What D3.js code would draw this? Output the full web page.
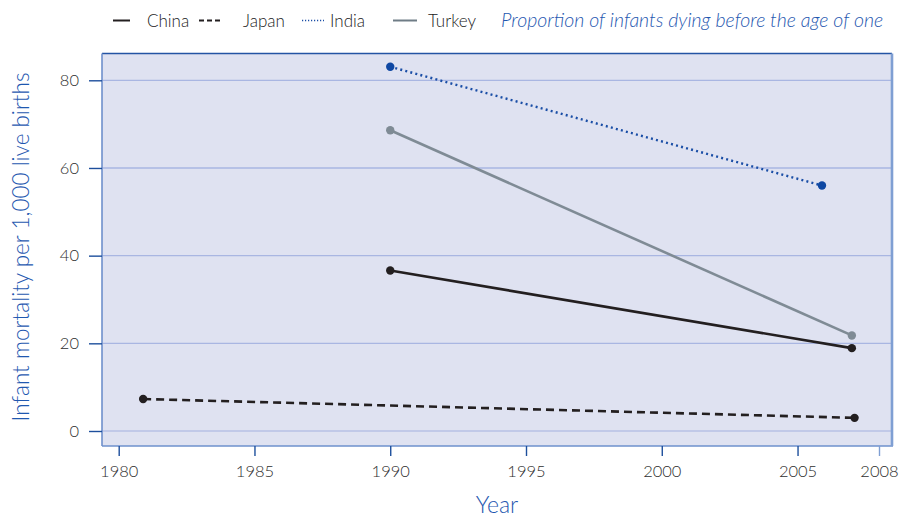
<!DOCTYPE html>
<html>
<head>
<meta charset="utf-8">
<script src="https://cdn.jsdelivr.net/npm/d3@7"></script>
<style>
  html, body { margin: 0; padding: 0; background: #ffffff; }
  svg { display: block; font-family: Lato, "Open Sans", sans-serif; }
</style>
</head>
<body>
<svg id="chart" width="902" height="519"></svg>
<script>
// Infant mortality per 1,000 live births, selected countries
const seriesNames = ["China", "Japan", "India", "Turkey"];
const chinaYears = [1990, 2007];
const chinaValues = [36.6, 18.9];
const japanYears = [1980.9, 2007.1];
const japanValues = [7.3, 3.0];
const indiaYears = [1990, 2005.9];
const indiaValues = [83.1, 56.0];
const turkeyYears = [1990, 2007];
const turkeyValues = [68.6, 21.8];

const xTicks = [1980, 1985, 1990, 1995, 2000, 2005, 2008];
const yTicks = [0, 20, 40, 60, 80];

const legendTitle = "Proportion of infants dying before the age of one";
const yTitle = "Infant mortality per 1,000 live births";
const xTitle = "Year";

const svg = d3.select("#chart");

// plot frame
const frame = { left: 102, right: 892, top: 53.5, bottom: 446 };

const x = d3.scaleLinear().domain([1980, 2008]).range([118.7, 879]);
const y = d3.scaleLinear().domain([0, 80]).range([431, 80.3]);

// background panel
svg.append("rect")
  .attr("x", frame.left).attr("y", frame.top)
  .attr("width", frame.right - frame.left)
  .attr("height", frame.bottom - frame.top)
  .attr("fill", "#dfe2f1");

// horizontal gridlines
svg.append("g").selectAll("line").data(yTicks).join("line")
  .attr("x1", frame.left).attr("x2", frame.right)
  .attr("y1", d => y(d)).attr("y2", d => y(d))
  .attr("stroke", d => d === 0 ? "#b7c1e4" : "#a9b6e2")
  .attr("stroke-width", 1.3);

// frame edges
svg.append("line").attr("x1", frame.left).attr("x2", frame.right)
  .attr("y1", frame.top).attr("y2", frame.top)
  .attr("stroke", "#2454a4").attr("stroke-width", 1.6);
svg.append("line").attr("x1", frame.left).attr("x2", frame.left)
  .attr("y1", frame.top).attr("y2", frame.bottom)
  .attr("stroke", "#6e90cc").attr("stroke-width", 1.6);
svg.append("line").attr("x1", frame.left).attr("x2", frame.right + 1)
  .attr("y1", frame.bottom).attr("y2", frame.bottom)
  .attr("stroke", "#6e90cc").attr("stroke-width", 1.6);
svg.append("line").attr("x1", frame.right).attr("x2", frame.right)
  .attr("y1", frame.top).attr("y2", frame.bottom)
  .attr("stroke", "#7f9fd3").attr("stroke-width", 2.6);

// y axis ticks and labels
const yAxis = d3.axisLeft(y).tickValues(yTicks).tickSize(13).tickPadding(10).tickFormat(d3.format("d"));
const gy = svg.append("g").attr("transform", `translate(${frame.left},0)`).call(yAxis);
gy.select(".domain").remove();
gy.selectAll(".tick line").attr("stroke", "#1d4f9c").attr("stroke-width", 1.4);
gy.selectAll(".tick text")
  .attr("fill", "#2e2e2e").attr("font-size", 16.5).attr("font-weight", 300)
  .attr("font-family", "Lato, sans-serif");

// x axis ticks and labels
const xAxis = d3.axisBottom(x).tickValues(xTicks).tickSize(10).tickPadding(9).tickFormat(d3.format("d"));
const gx = svg.append("g").attr("transform", `translate(0,${frame.bottom})`).call(xAxis);
gx.select(".domain").remove();
gx.selectAll(".tick line")
  .attr("stroke", d => d === 2008 ? "#7f9fd3" : "#1d4f9c").attr("stroke-width", 1.4);
gx.selectAll(".tick text")
  .attr("fill", "#2e2e2e").attr("font-size", 16.5).attr("font-weight", 300)
  .attr("font-family", "Lato, sans-serif");

// axis titles
svg.append("text")
  .attr("transform", "translate(29,247) rotate(-90)")
  .attr("text-anchor", "middle")
  .attr("fill", "#1f58b0").attr("font-size", 22.5).attr("font-weight", 300)
  .text(yTitle);
svg.append("text")
  .attr("x", 497).attr("y", 513)
  .attr("text-anchor", "middle")
  .attr("fill", "#1f58b0").attr("font-size", 23).attr("font-weight", 300)
  .text(xTitle);

// series definitions
const series = [
  { name: seriesNames[0], years: chinaYears, values: chinaValues, color: "#231f20", dash: null, marker: "#231f20" },
  { name: seriesNames[1], years: japanYears, values: japanValues, color: "#231f20", dash: "8,5", marker: "#231f20" },
  { name: seriesNames[2], years: indiaYears, values: indiaValues, color: "#1a4ea6", dash: "2,3.2", marker: "#0f48a3" },
  { name: seriesNames[3], years: turkeyYears, values: turkeyValues, color: "#7f8b95", dash: null, marker: "#7f8b95" }
];

const line = d3.line().x(d => x(d[0])).y(d => y(d[1]));

const gLines = svg.append("g");
series.forEach(s => {
  const pts = s.years.map((yr, i) => [yr, s.values[i]]);
  gLines.append("path")
    .datum(pts)
    .attr("d", line)
    .attr("fill", "none")
    .attr("stroke", s.color)
    .attr("stroke-width", s.name === "India" ? 2.4 : 2.6)
    .attr("stroke-dasharray", s.dash);
  gLines.selectAll(null).data(pts).join("circle")
    .attr("cx", d => x(d[0])).attr("cy", d => y(d[1]))
    .attr("r", 4.2)
    .attr("fill", s.marker);
});

// legend
const legendItems = [
  { name: "China", x0: 113, x1: 130, tx: 147, color: "#231f20", dash: null, w: 2.0 },
  { name: "Japan", x0: 199, x1: 221, tx: 243, color: "#231f20", dash: "5,3", w: 2.0 },
  { name: "India", x0: 302, x1: 324, tx: 330, color: "#1a4ea6", dash: "1.2,1.8", w: 1.5 },
  { name: "Turkey", x0: 393, x1: 417, tx: 428, color: "#6f7c86", dash: null, w: 2.0 }
];
const lg = svg.append("g");
legendItems.forEach(it => {
  lg.append("line")
    .attr("x1", it.x0).attr("x2", it.x1).attr("y1", 20.5).attr("y2", 20.5)
    .attr("stroke", it.color).attr("stroke-width", it.w)
    .attr("stroke-dasharray", it.dash);
  lg.append("text")
    .attr("x", it.tx).attr("y", 26.5)
    .attr("fill", "#222222").attr("font-size", 17).attr("font-weight", 300)
    .text(it.name);
});
lg.append("text")
  .attr("x", 501).attr("y", 26.5)
  .attr("fill", "#1f58b0").attr("font-size", 19.5).attr("font-weight", 300)
  .attr("font-style", "italic")
  .text(legendTitle);
</script>
</body>
</html>
